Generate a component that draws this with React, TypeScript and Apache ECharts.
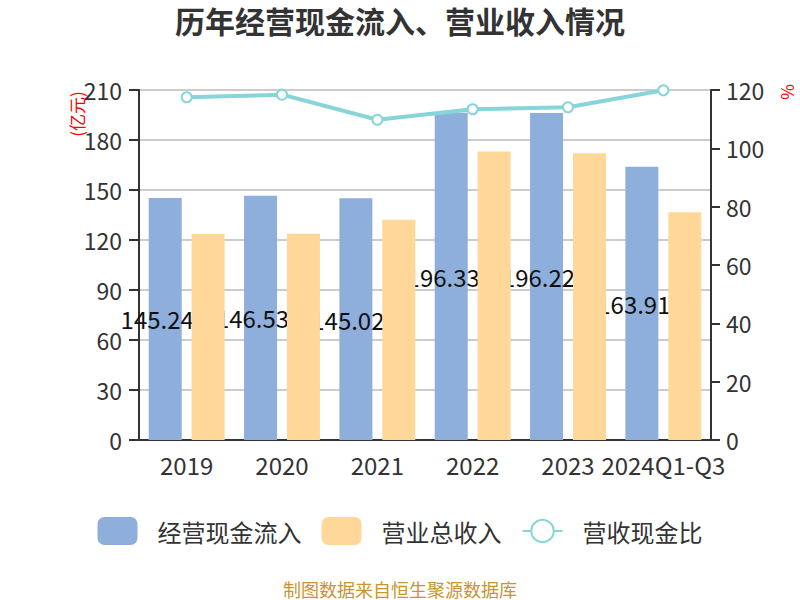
import React, { useEffect, useRef } from "react";
import * as echarts from "echarts";

const categories = ["2019", "2020", "2021", "2022", "2023", "2024Q1-Q3"];
const cashInflow = [145.24, 146.53, 145.02, 196.33, 196.22, 163.91];
const revenue = [123.6, 123.8, 132.1, 173.1, 172.0, 136.7];
const ratio = [117.5, 118.4, 109.8, 113.4, 114.1, 119.9];

const FONT = "'Noto Sans CJK SC', 'Noto Sans', sans-serif";

export default function App() {
  const ref = useRef<HTMLDivElement>(null);
  useEffect(() => {
    if (!ref.current) return;
    const chart = echarts.init(ref.current, undefined, { renderer: "svg" });
    chart.setOption({
      animation: false,
      backgroundColor: "#fff",
      textStyle: { fontFamily: FONT },
      title: {
        text: "历年经营现金流入、营业收入情况",
        left: "center",
        top: 0,
        textStyle: { fontSize: 30, fontWeight: "bold", color: "#333", fontFamily: FONT },
      },
      grid: { left: 139, right: 89, top: 90, bottom: 160 },
      legend: {
        bottom: 50,
        left: "center",
        itemWidth: 40,
        itemHeight: 28,
        itemGap: 20,
        textStyle: { fontSize: 24, color: "#333", fontFamily: FONT, padding: [0, 0, 0, 15] },
        data: [
          { name: "经营现金流入", icon: "roundRect" },
          { name: "营业总收入", icon: "roundRect" },
          { name: "营收现金比" },
        ],
      },
      xAxis: {
        type: "category",
        data: categories,
        axisLine: { lineStyle: { color: "#333", width: 2 } },
        axisTick: { length: 8, lineStyle: { color: "#333", width: 2 } },
        axisLabel: { fontSize: 24, color: "#333", margin: 12, interval: 0, fontFamily: FONT },
      },
      yAxis: [
        {
          type: "value",
          min: 0,
          max: 210,
          interval: 30,
          axisLine: { show: true, lineStyle: { color: "#333", width: 2 } },
          axisTick: { show: true, length: 10, lineStyle: { color: "#333", width: 2 } },
          axisLabel: { fontSize: 23, color: "#333", margin: 17, fontFamily: FONT },
          splitLine: { lineStyle: { color: "#ccc", width: 2 } },
        },
        {
          type: "value",
          min: 0,
          max: 120,
          interval: 20,
          axisLine: { show: true, lineStyle: { color: "#333", width: 2 } },
          axisTick: { show: true, length: 9, lineStyle: { color: "#333", width: 2 } },
          axisLabel: { fontSize: 23, color: "#333", margin: 15, fontFamily: FONT },
          splitLine: { show: false },
        },
      ],
      graphic: [
        {
          type: "text",
          x: 76,
          y: 114,
          rotation: Math.PI / 2,
          style: {
            text: "(亿元)",
            fill: "#ff0000",
            fontSize: 17,
            fontFamily: FONT,
            textAlign: "center",
            textVerticalAlign: "middle",
          },
        },
        {
          type: "text",
          x: 786,
          y: 92,
          rotation: Math.PI / 2,
          style: {
            text: "%",
            fill: "#ff0000",
            fontSize: 17,
            fontFamily: FONT,
            textAlign: "center",
            textVerticalAlign: "middle",
          },
        },
        {
          type: "text",
          x: 400,
          y: 589,
          style: {
            text: "制图数据来自恒生聚源数据库",
            fill: "#c9952c",
            fontSize: 18,
            fontFamily: FONT,
            textAlign: "center",
            textVerticalAlign: "middle",
          },
        },
      ],
      series: [
        {
          name: "经营现金流入",
          type: "bar",
          z: 2,
          data: cashInflow,
          barWidth: 33,
          barGap: "30%",
          itemStyle: { color: "#8eaedb" },
          label: {
            show: true,
            position: "inside",
            offset: [-8, 0],
            fontSize: 24,
            color: "#111",
            fontFamily: FONT,
          },
        },
        {
          name: "营业总收入",
          type: "bar",
          z: 3,
          data: revenue,
          barWidth: 33,
          barGap: "30%",
          itemStyle: { color: "#ffd899" },
        },
        {
          name: "营收现金比",
          type: "line",
          yAxisIndex: 1,
          z: 4,
          data: ratio,
          symbol: "emptyCircle",
          symbolSize: 10,
          lineStyle: { color: "#87d4d9", width: 4 },
          itemStyle: { color: "#87d4d9", borderWidth: 2 },
        },
      ],
    });
    return () => chart.dispose();
  }, []);
  return (
    <div
      ref={ref}
      style={{ position: "absolute", left: 0, top: 0, width: 800, height: 600 }}
    />
  );
}
